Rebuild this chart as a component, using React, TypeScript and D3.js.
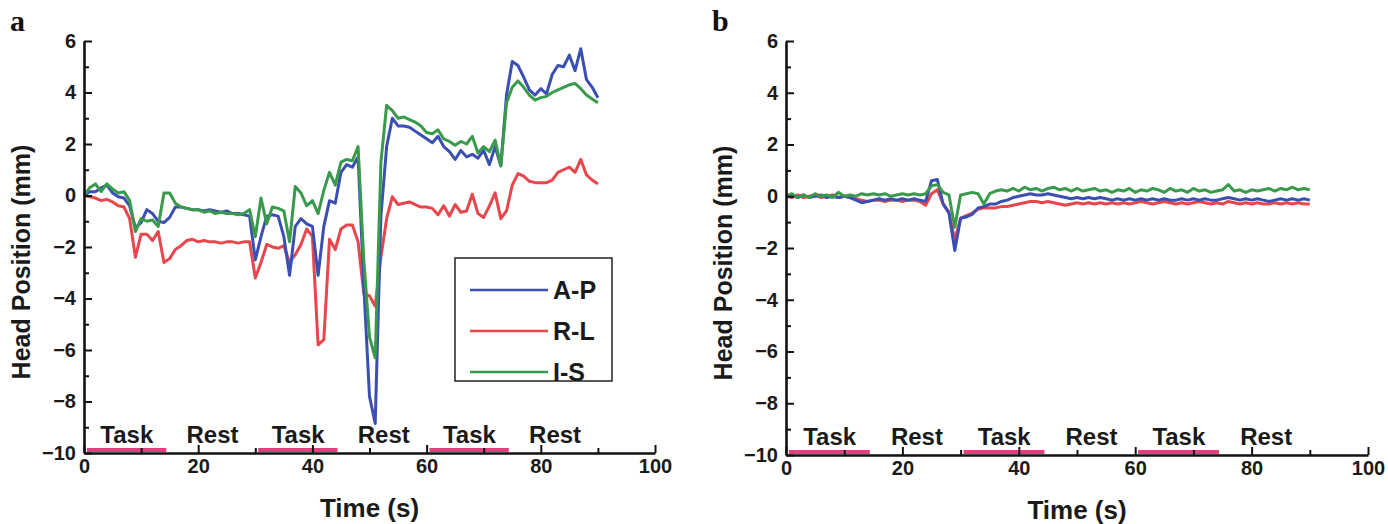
import React, { useEffect, useRef } from 'react';
import * as d3 from 'd3';

// time samples (s)
const seconds = [
  0, 1, 2, 3, 4, 5, 6, 7, 8, 9, 10, 11, 12, 13, 14, 15, 16, 17, 18, 19,
  20, 21, 22, 23, 24, 25, 26, 27, 28, 29, 30, 31, 32, 33, 34, 35, 36, 37, 38, 39,
  40, 41, 42, 43, 44, 45, 46, 47, 48, 49, 50, 51, 52, 53, 54, 55, 56, 57, 58, 59,
  60, 61, 62, 63, 64, 65, 66, 67, 68, 69, 70, 71, 72, 73, 74, 75, 76, 77, 78, 79,
  80, 81, 82, 83, 84, 85, 86, 87, 88, 89, 90,
];

// panel a
const apA = [
  0, 0.15, 0.15, 0.3, 0.4, 0.1, -0.05, -0.1, -0.4, -1.25, -1.05, -0.55, -0.7, -1.0, -1.05, -0.85, -0.45, -0.45, -0.5, -0.55,
  -0.55, -0.6, -0.55, -0.6, -0.65, -0.6, -0.7, -0.7, -0.75, -0.8, -2.5, -1.6, -0.8, -0.75, -0.8, -1.6, -3.1, -1.2, -0.9, -1.1,
  -1.2, -3.1, -1.2, -0.2, -0.3, 0.9, 1.2, 1.1, 1.5, -3.5, -7.8, -8.85, -0.8, 1.9, 3.0, 2.7, 2.7, 2.65, 2.5, 2.35,
  2.2, 2.05, 2.3, 1.9, 1.7, 1.4, 1.75, 1.5, 1.6, 1.45, 1.75, 1.2, 1.9, 1.15, 3.9, 5.2, 5.05, 4.6, 4.1, 3.9,
  4.15, 3.95, 4.7, 5.05, 5.0, 5.45, 4.85, 5.7, 4.5, 4.2, 3.8,
];
const rlA = [
  0, -0.05, -0.1, -0.2, -0.15, -0.25, -0.4, -0.45, -0.9, -2.4, -1.5, -1.5, -1.75, -1.4, -2.6, -2.45, -2.1, -1.95, -1.75, -1.7,
  -1.8, -1.75, -1.8, -1.8, -1.85, -1.8, -1.8, -1.85, -1.8, -1.8, -3.2, -2.6, -1.9, -2.0, -2.05, -1.95, -2.6, -2.3, -1.9, -1.3,
  -1.6, -5.8, -5.6, -1.7, -2.1, -1.3, -1.15, -1.15, -1.8, -3.8, -3.9, -4.3, -2.4, -0.9, -0.05, -0.35, -0.3, -0.25, -0.35, -0.45,
  -0.45, -0.5, -0.75, -0.4, -0.8, -0.35, -0.65, -0.6, 0.05, -0.7, -0.85, -0.4, 0.1, -0.9, -0.6, 0.4, 0.85, 0.75, 0.55, 0.5,
  0.5, 0.5, 0.6, 0.9, 1.0, 1.1, 0.9, 1.4, 0.8, 0.6, 0.45,
];
const isA = [
  0, 0.3, 0.45, 0.15, 0.45, 0.25, 0.1, 0.15, -0.2, -1.4, -0.9, -1.0, -0.95, -1.2, 0.1, 0.1, -0.3, -0.45, -0.5, -0.55,
  -0.55, -0.65, -0.6, -0.7, -0.65, -0.7, -0.7, -0.75, -0.7, -0.55, -1.6, -0.1, -1.1, -0.45, -0.5, -0.6, -1.8, 0.35, 0.1, -0.4,
  -0.2, -0.7, 0.2, 0.9, 0.4, 1.3, 1.4, 1.35, 1.9, -2.5, -5.5, -6.3, 1.3, 3.5, 3.3, 3.0, 3.05, 2.95, 2.85, 2.7,
  2.45, 2.4, 2.55, 2.2, 2.1, 1.95, 2.1, 2.0, 2.3, 1.65, 1.9, 1.7, 2.15, 1.15, 3.6, 4.2, 4.45, 4.2, 3.9, 3.7,
  3.8, 3.85, 4.0, 4.1, 4.2, 4.3, 4.35, 4.15, 3.9, 3.75, 3.6,
];

// panel b
const apB = [
  0, 0.05, -0.05, 0.05, -0.05, 0.0, 0.05, -0.05, 0.0, -0.05, 0.0, -0.05, -0.15, -0.25, -0.2, -0.15, -0.1, -0.15, -0.1, -0.15,
  -0.1, -0.15, -0.1, -0.15, -0.2, 0.6, 0.65, -0.3, -0.65, -2.1, -0.85, -0.8, -0.7, -0.45, -0.4, -0.3, -0.3, -0.2, -0.15, -0.05,
  0.0, 0.05, 0.1, 0.05, 0.05, 0.1, 0.05, 0.0, -0.05, -0.1, -0.05, -0.1, -0.05, -0.1, -0.05, -0.1, -0.15, -0.1, -0.15, -0.1,
  -0.15, -0.1, -0.15, -0.1, -0.15, -0.1, -0.15, -0.15, -0.1, -0.15, -0.1, -0.15, -0.1, -0.15, -0.15, -0.1, -0.05, -0.1, -0.15, -0.1,
  -0.15, -0.1, -0.15, -0.2, -0.15, -0.1, -0.15, -0.1, -0.15, -0.1, -0.15,
];
const rlB = [
  0, -0.05, 0.05, -0.05, 0.0, 0.05, -0.05, 0.0, 0.05, -0.05, 0.0, -0.05, -0.1, -0.15, -0.2, -0.15, -0.15, -0.2, -0.15, -0.15,
  -0.2, -0.15, -0.15, -0.2, -0.35, 0.1, 0.25, -0.3, -0.6, -1.7, -0.85, -0.75, -0.65, -0.5, -0.45, -0.45, -0.45, -0.4, -0.4, -0.35,
  -0.3, -0.25, -0.2, -0.2, -0.25, -0.2, -0.25, -0.3, -0.35, -0.3, -0.25, -0.3, -0.25, -0.3, -0.25, -0.3, -0.25, -0.3, -0.25, -0.3,
  -0.25, -0.2, -0.25, -0.3, -0.25, -0.2, -0.25, -0.3, -0.25, -0.3, -0.25, -0.2, -0.25, -0.3, -0.25, -0.3, -0.2, -0.25, -0.3, -0.25,
  -0.3, -0.25, -0.3, -0.3, -0.25, -0.3, -0.25, -0.3, -0.25, -0.3, -0.3,
];
const isB = [
  0, 0.1, -0.05, 0.05, -0.05, 0.1, 0.0, 0.05, -0.05, 0.15, 0.0, 0.05, 0.0, 0.1, 0.05, 0.1, 0.05, 0.1, 0.0, 0.05,
  0.1, 0.05, 0.1, 0.05, 0.1, 0.4, 0.45, 0.15, 0.05, -1.2, 0.05, 0.1, 0.15, 0.1, -0.3, 0.1, 0.2, 0.25, 0.2, 0.3,
  0.2, 0.35, 0.25, 0.3, 0.2, 0.3, 0.35, 0.25, 0.3, 0.2, 0.3, 0.2, 0.25, 0.3, 0.2, 0.25, 0.15, 0.25, 0.2, 0.3,
  0.15, 0.25, 0.2, 0.3, 0.25, 0.15, 0.3, 0.2, 0.25, 0.15, 0.3, 0.2, 0.25, 0.15, 0.2, 0.25, 0.45, 0.2, 0.25, 0.15,
  0.25, 0.2, 0.25, 0.3, 0.2, 0.3, 0.25, 0.35, 0.25, 0.3, 0.25,
];

const seriesNames = ['A-P', 'R-L', 'I-S'];
const seriesColors = ['#3b4fb3', '#e6464c', '#3a9a4b'];
const yMajor = [-10, -8, -6, -4, -2, 0, 2, 4, 6];
const yMinor = [-9, -7, -5, -3, -1, 1, 3, 5];
const xMajor = [0, 20, 40, 60, 80, 100];
const xMinor = [10, 30, 50, 70, 90];
const taskStart = [0, 30, 60];
const blockLabels = ['Task', 'Rest', 'Task', 'Rest', 'Task', 'Rest'];
const blockMid = [7.5, 22.5, 37.5, 52.5, 67.5, 82.5];

const SANS = '"Liberation Sans", Arial, Helvetica, sans-serif';
const INK = '#1a1a1a';

function drawPanel(svg, o) {
  const x = d3.scaleLinear().domain([0, 100]).range([o.left, o.right]);
  const y = d3.scaleLinear().domain([-10, 6]).range([o.bottom, o.top]);
  const g = svg.append('g');

  // task bars
  g.selectAll('.task')
    .data(taskStart)
    .enter().append('rect')
    .attr('x', d => x(d + 0.5))
    .attr('width', d => x(d + 14.4) - x(d + 0.5))
    .attr('y', o.bottom - 5)
    .attr('height', 4)
    .attr('fill', '#e0407f');

  g.selectAll('.blk')
    .data(blockLabels)
    .enter().append('text')
    .attr('x', (d, i) => x(blockMid[i]))
    .attr('y', o.bottom - 10)
    .attr('text-anchor', 'middle')
    .attr('font-family', SANS)
    .attr('font-weight', 700)
    .attr('font-size', 24)
    .attr('fill', INK)
    .text(d => d);

  // lines
  const order = [1, 0, 2];
  const line = d3.line().x((d, i) => x(seconds[i])).y(d => y(d));
  order.forEach(k => {
    g.append('path')
      .datum(o.series[k])
      .attr('d', line)
      .attr('fill', 'none')
      .attr('stroke', seriesColors[k])
      .attr('stroke-width', 3)
      .attr('stroke-linejoin', 'round');
  });

  // y axis
  const yMin = g.append('g').attr('transform', `translate(${o.left},0)`)
    .call(d3.axisLeft(y).tickValues(yMinor).tickSize(-5).tickFormat(() => ''));
  yMin.select('.domain').remove();
  const yAx = g.append('g').attr('transform', `translate(${o.left},0)`)
    .call(d3.axisLeft(y).tickValues(yMajor).tickSize(-8).tickSizeOuter(0).tickPadding(8).tickFormat(d3.format('d')));
  // x axis
  const xMin = g.append('g').attr('transform', `translate(0,${o.bottom})`)
    .call(d3.axisBottom(x).tickValues(xMinor).tickSize(-5).tickFormat(() => ''));
  xMin.select('.domain').remove();
  const xAx = g.append('g').attr('transform', `translate(0,${o.bottom})`)
    .call(d3.axisBottom(x).tickValues(xMajor).tickSize(-8).tickSizeOuter(0).tickPadding(6));

  [yMin, yAx, xMin, xAx].forEach(a => {
    a.selectAll('.tick line').attr('stroke', '#111').attr('stroke-width', 2);
    a.selectAll('.domain').attr('stroke', '#111').attr('stroke-width', 2.6);
    a.selectAll('text')
      .attr('font-family', SANS)
      .attr('font-weight', 700)
      .attr('font-size', 20)
      .attr('fill', INK);
  });

  // titles
  g.append('text')
    .attr('transform', `translate(${o.left - 63},${(o.top + o.bottom) / 2 + 15}) rotate(-90)`)
    .attr('text-anchor', 'middle')
    .attr('dominant-baseline', 'central')
    .attr('font-family', SANS)
    .attr('font-weight', 700)
    .attr('font-size', 25)
    .attr('fill', INK)
    .text('Head Position (mm)');

  g.append('text')
    .attr('x', x(50))
    .attr('y', o.bottom + 64)
    .attr('text-anchor', 'middle')
    .attr('font-family', SANS)
    .attr('font-weight', 700)
    .attr('font-size', 26)
    .attr('fill', INK)
    .text('Time (s)');

  g.append('text')
    .attr('x', o.left - 74)
    .attr('y', 31)
    .attr('font-family', '"Liberation Serif", "Times New Roman", serif')
    .attr('font-weight', 700)
    .attr('font-size', 30)
    .attr('fill', '#111')
    .text(o.letter);

  if (o.legend) {
    const lg = g.append('g');
    lg.append('rect')
      .attr('x', 455).attr('y', 258)
      .attr('width', 157).attr('height', 123)
      .attr('fill', '#fff').attr('stroke', '#222').attr('stroke-width', 1.5);
    seriesNames.forEach((name, i) => {
      const yy = 290 + i * 41;
      lg.append('line')
        .attr('x1', 470).attr('x2', 548).attr('y1', yy).attr('y2', yy)
        .attr('stroke', seriesColors[i]).attr('stroke-width', 2.6);
      lg.append('text')
        .attr('x', 553).attr('y', yy + 9)
        .attr('font-family', SANS)
        .attr('font-weight', 700)
        .attr('font-size', 25)
        .attr('fill', INK)
        .text(name);
    });
  }
}

const App = () => {
  const ref = useRef(null);

  useEffect(() => {
    const svg = d3.select(ref.current);
    svg.selectAll('*').remove();
    drawPanel(svg, { left: 84, right: 655, top: 41, bottom: 453, letter: 'a', series: [apA, rlA, isA], legend: true });
    drawPanel(svg, { left: 786, right: 1368, top: 41, bottom: 455, letter: 'b', series: [apB, rlB, isB], legend: false });
  }, []);

  return (
    <svg
      ref={ref}
      width={1388}
      height={524}
      style={{ position: 'absolute', left: 0, top: 0, background: '#fff' }}
    />
  );
};

export default App;
